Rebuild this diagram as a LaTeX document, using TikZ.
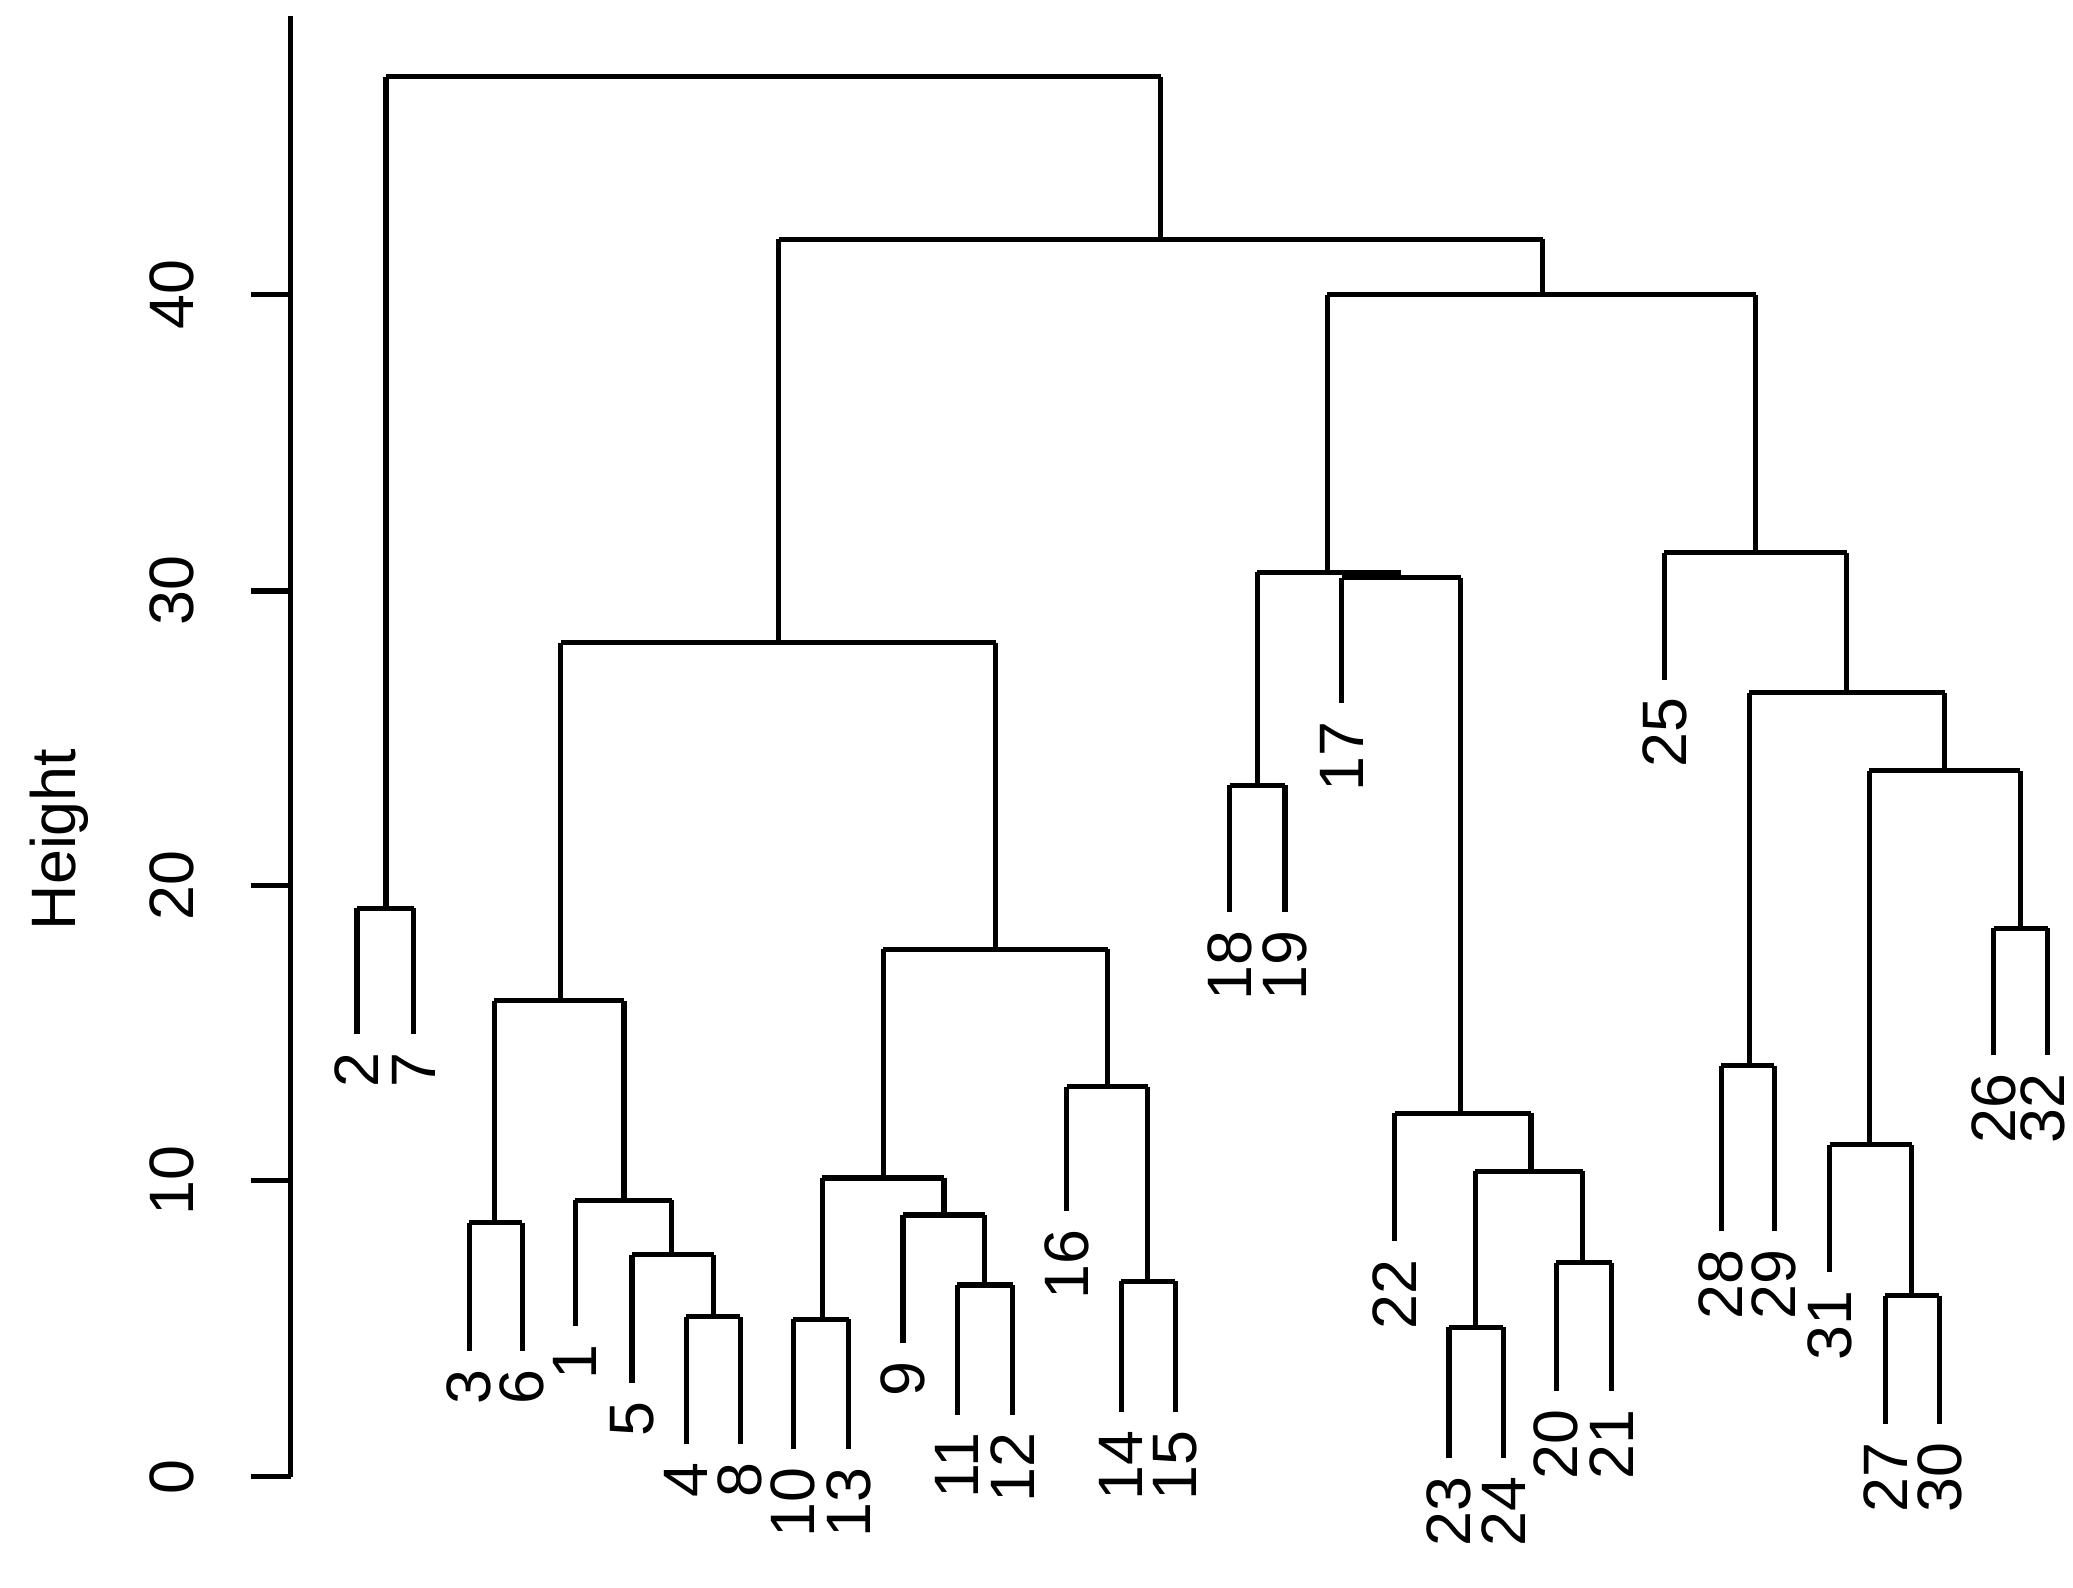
\documentclass[tikz,border=0pt]{standalone}
\usepackage{fontspec}
\setmainfont{Liberation Sans}
\begin{document}
\begin{tikzpicture}[x=0.01cm,y=-0.01cm,line width=1.1pt,
  lab/.style={rotate=90,anchor=east,inner sep=0pt,font=\fontsize{13.5}{16}\selectfont},
  tick/.style={rotate=90,inner sep=0pt,font=\fontsize{13.5}{16}\selectfont}]
\useasboundingbox (0,0) rectangle (1568,1201);
\newcommand{\lf}[4]{\draw (#1,#2) -- (#1,#3); \node[lab] at (#1,#3+12) {#4};}
\newcommand{\hz}[3]{\draw (#2,#1) -- (#3,#1);}
\newcommand{\vt}[3]{\draw (#1,#2) -- (#1,#3);}
% axis
\draw (220,12) -- (220,1117);
\foreach \v/\y in {0/1117,10/893,20/670,30/447,40/223}{
  \draw (190,\y) -- (220,\y);
  \node[tick] at (130,\y) {\v};}
\node[tick] at (45,635) {Height};
% top
\hz{58}{292}{878}
\vt{292}{58}{687}
\hz{687}{270}{313}
\lf{270}{687}{782}{2}\lf{313}{687}{782}{7}
\vt{878}{58}{181}
\hz{181}{589}{1167}
\vt{589}{181}{486}
\hz{486}{424}{753}
\vt{424}{486}{757}
\hz{757}{374}{472}
\vt{374}{757}{925}
\hz{925}{355}{395}
\lf{355}{925}{1022}{3}\lf{395}{925}{1022}{6}
\vt{472}{757}{908}
\hz{908}{435}{508}
\lf{435}{908}{1003}{1}
\vt{508}{908}{949}
\hz{949}{478}{540}
\lf{478}{949}{1046}{5}
\vt{540}{949}{996}
\hz{996}{519}{560}
\lf{519}{996}{1092}{4}\lf{560}{996}{1092}{8}
\vt{753}{486}{718}
\hz{718}{668}{838}
\vt{668}{718}{891}
\hz{891}{622}{714}
\vt{622}{891}{998}
\hz{998}{600}{642}
\lf{600}{998}{1096}{10}\lf{642}{998}{1096}{13}
\vt{714}{891}{919}
\hz{919}{683}{745}
\lf{683}{919}{1016}{9}
\vt{745}{919}{972}
\hz{972}{724}{766}
\lf{724}{972}{1070}{11}\lf{766}{972}{1070}{12}
\vt{838}{718}{822}
\hz{822}{807}{868}
\lf{807}{822}{916}{16}
\vt{868}{822}{969}
\hz{969}{848}{889}
\lf{848}{969}{1068}{14}\lf{889}{969}{1068}{15}
% right half
\vt{1167}{181}{223}
\hz{223}{1004}{1328}
\vt{1004}{223}{433}
\hz{433}{951}{1060}
\hz{437}{1015}{1105}
\vt{951}{433}{594}
\hz{594}{930}{972}
\lf{930}{594}{690}{18}\lf{972}{594}{690}{19}
\lf{1015}{437}{532}{17}
\vt{1105}{437}{842}
\hz{842}{1055}{1158}
\lf{1055}{842}{939}{22}
\vt{1158}{842}{886}
\hz{886}{1116}{1197}
\vt{1116}{886}{1004}
\hz{1004}{1096}{1137}
\lf{1096}{1004}{1103}{23}\lf{1137}{1004}{1103}{24}
\vt{1197}{886}{955}
\hz{955}{1177}{1219}
\lf{1177}{955}{1052}{20}\lf{1219}{955}{1052}{21}
\vt{1328}{223}{418}
\hz{418}{1259}{1397}
\lf{1259}{418}{514}{25}
\vt{1397}{418}{524}
\hz{524}{1323}{1471}
\vt{1323}{524}{806}
\hz{806}{1302}{1342}
\lf{1302}{806}{931}{28}\lf{1342}{806}{931}{29}
\vt{1471}{524}{583}
\hz{583}{1414}{1528}
\vt{1414}{583}{866}
\hz{866}{1384}{1446}
\lf{1384}{866}{962}{31}
\vt{1446}{866}{980}
\hz{980}{1426}{1467}
\lf{1426}{980}{1077}{27}\lf{1467}{980}{1077}{30}
\vt{1528}{583}{702}
\hz{702}{1508}{1549}
\lf{1508}{702}{798}{26}
\draw (1549,702) -- (1549,798); \node[lab] at (1545,810) {32};
\end{tikzpicture}
\end{document}
